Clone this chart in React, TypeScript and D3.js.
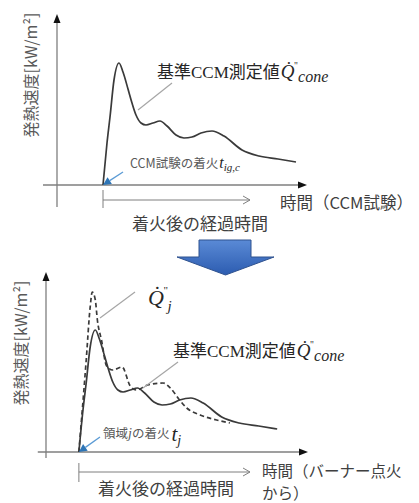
import React, { useEffect, useRef } from 'react';
import * as d3 from 'd3';

// reference CCM heat release curve (time after ignition, HRR)
const ccmTime = [0, 4, 7, 11, 16, 20, 25, 29, 33, 38, 43, 50, 57, 64, 73, 81, 89, 98, 109, 121, 139, 156, 175, 193];
const ccmHrr = [0, 42, 68, 105, 122, 113, 96, 82, 70, 62, 60, 62, 64, 59, 50, 47, 48, 52, 54, 49, 35, 29, 26, 23];
// region j curve (dashed, bottom panel)
const regionTime = [0, 7, 11, 13, 16, 18, 22, 27, 33, 42, 50, 56, 67, 82, 89, 98, 105, 118, 134, 147];
const regionHrr = [0, 90, 145, 160, 152, 132, 112, 86, 82, 85, 66, 62, 67, 69, 64, 52, 44, 37, 32, 29];

const ignitionTop = 46;
const ignitionBottom = 32;

const yLabel = '発熱速度[kW/m²]';
const elapsedLabel = '着火後の経過時間';
const timeLabelTop = ['時間（CCM試験）'];
const timeLabelBottom = ['時間（バーナー点火', 'から）'];
const ccmLabel = '基準CCM測定値';

const sans = '"Noto Sans CJK JP", "Noto Sans", sans-serif';
const serif = '"Liberation Serif", "Noto Sans CJK JP", serif';
const ink = '#262626';
const gray = '#404040';
const axisColor = '#7f7f7f';

function measure(g: any, s: string, size: number, family: string, italic = false) {
  const t = g.append('text')
    .attr('font-size', size).attr('font-family', family)
    .attr('font-style', italic ? 'italic' : 'normal')
    .text(s);
  const w = (t.node() as SVGTextElement).getComputedTextLength();
  t.remove();
  return w;
}

// Q with dot above (combining), double prime and subscript, as one text
function qLabel(g: any, x: number, base: number, prefix: string, qSize: number, sub: string, subSize: number, subDy: number) {
  const text = g.append('text').attr('x', x).attr('y', base).attr('fill', ink);
  let cx = x;
  if (prefix) {
    text.append('tspan').attr('x', x).attr('y', base)
      .attr('font-family', serif).attr('font-size', 17).text(prefix);
    cx += measure(g, prefix, 17, serif) + 1;
  }
  const q = 'Q\u0307';
  const qw = measure(g, q, qSize, serif, true);
  text.append('tspan').attr('x', cx).attr('y', base)
    .attr('font-family', serif).attr('font-style', 'italic').attr('font-size', qSize).text(q);
  text.append('tspan').attr('x', cx + qw - 0.5).attr('y', base - qSize * 0.5)
    .attr('font-family', serif).attr('font-size', qSize * 0.5).text('"');
  text.append('tspan').attr('x', cx + qw + 3.5).attr('y', base + subDy)
    .attr('font-family', serif).attr('font-style', 'italic').attr('font-size', subSize).text(sub);
}

function pointer(g: any, x1: number, y1: number, x2: number, y2: number) {
  const a = Math.atan2(y2 - y1, x2 - x1);
  const len = 8, half = 4;
  const bx = x2 - len * Math.cos(a), by = y2 - len * Math.sin(a);
  g.append('line')
    .attr('x1', x1).attr('y1', y1).attr('x2', bx).attr('y2', by)
    .attr('stroke', '#5b9bd5').attr('stroke-width', 1.3);
  g.append('path')
    .attr('d', `M${x2},${y2}L${bx + half * Math.sin(a)},${by - half * Math.cos(a)}L${bx - half * Math.sin(a)},${by + half * Math.cos(a)}Z`)
    .attr('fill', '#2e75b6');
}

export default function App() {
  const svgRef = useRef<SVGSVGElement>(null);

  useEffect(() => {
    const svg = d3.select(svgRef.current);
    svg.selectAll('*').remove();

    const defs = svg.append('defs');
    const grad = defs.append('linearGradient')
      .attr('id', 'blueArrow').attr('x1', 0).attr('y1', 0).attr('x2', 0).attr('y2', 1);
    grad.append('stop').attr('offset', '0%').attr('stop-color', '#5a8ad6');
    grad.append('stop').attr('offset', '100%').attr('stop-color', '#2c5cb0');

    const panels = [
      {
        x: d3.scaleLinear().domain([0, 250]).range([57, 307]),
        y: d3.scaleLinear().domain([0, 170]).range([185, 15]),
        tIg: ignitionTop, xMin: -14, yMin: -22, yMax: 171,
        bracket: [190, 200, 208],
      },
      {
        x: d3.scaleLinear().domain([0, 255]).range([46, 308]),
        y: d3.scaleLinear().domain([0, 170]).range([452, 282]),
        tIg: ignitionBottom, xMin: -8, yMin: -6, yMax: 180,
        bracket: [463, 472, 482],
      },
    ];

    panels.forEach((p, i) => {
      const g = svg.append('g');
      const x1 = p.x.range()[1];
      const oy = p.y(0);
      const ox = p.x(0);

      // axes
      g.append('line')
        .attr('x1', p.x(p.xMin)).attr('x2', x1 - 6).attr('y1', oy).attr('y2', oy)
        .attr('stroke', axisColor).attr('stroke-width', 1.3);
      g.append('path')
        .attr('d', `M${x1},${oy}L${x1 - 9},${oy - 3.5}L${x1 - 9},${oy + 3.5}Z`)
        .attr('fill', '#111');
      const yTop = p.y(p.yMax);
      g.append('line')
        .attr('x1', ox).attr('x2', ox).attr('y1', p.y(p.yMin)).attr('y2', yTop + 6)
        .attr('stroke', axisColor).attr('stroke-width', 1.3);
      g.append('path')
        .attr('d', `M${ox},${yTop}L${ox - 3.5},${yTop + 9}L${ox + 3.5},${yTop + 9}Z`)
        .attr('fill', '#111');

      // y label
      g.append('text')
        .attr('transform', `translate(${i === 0 ? 30 : 20},${i === 0 ? 75 : 343}) rotate(-90)`)
        .attr('text-anchor', 'middle').attr('dominant-baseline', 'central')
        .attr('font-family', sans).attr('font-size', 16).attr('fill', '#595959')
        .text(yLabel);

      const line = d3.line<number>()
        .x((_, k) => p.x(p.tIg + ccmTime[k]))
        .y(d => p.y(d))
        .curve(d3.curveMonotoneX);

      if (i === 1) {
        const dline = d3.line<number>()
          .x((_, k) => p.x(p.tIg + regionTime[k]))
          .y(d => p.y(d))
          .curve(d3.curveMonotoneX);
        g.append('path')
          .attr('d', dline(regionHrr))
          .attr('fill', 'none').attr('stroke', '#3a3a3a')
          .attr('stroke-width', 1.7).attr('stroke-dasharray', '4.5,3');
      }
      g.append('path')
        .attr('d', line(ccmHrr))
        .attr('fill', 'none').attr('stroke', '#3a3a3a').attr('stroke-width', 1.7);

      // elapsed-time bracket
      const bx = p.x(p.tIg);
      const [bt, bm, bb] = p.bracket;
      g.append('line').attr('x1', bx).attr('x2', bx).attr('y1', bt).attr('y2', bb)
        .attr('stroke', axisColor).attr('stroke-width', 1);
      g.append('line').attr('x1', bx).attr('x2', 250).attr('y1', bm).attr('y2', bm)
        .attr('stroke', axisColor).attr('stroke-width', 1);
      g.append('path').attr('d', `M243,${bm - 4}L250,${bm}L243,${bm + 4}`)
        .attr('fill', 'none').attr('stroke', axisColor).attr('stroke-width', 1);
      g.append('text')
        .attr('x', i === 0 ? 132 : 98).attr('y', i === 0 ? 222 : 487)
        .attr('dominant-baseline', 'central')
        .attr('font-family', sans).attr('font-size', 17).attr('fill', gray)
        .text(elapsedLabel);

      // time axis label (one text, wrapped lines)
      const tl = i === 0 ? timeLabelTop : timeLabelBottom;
      const lx = i === 0 ? 280 : 262;
      const tt = g.append('text')
        .attr('x', lx).attr('y', i === 0 ? 202 : 470)
        .attr('dominant-baseline', 'central')
        .attr('font-family', sans).attr('font-size', i === 0 ? 16.5 : 15.5).attr('fill', gray);
      tl.forEach((s, k) => {
        tt.append('tspan').attr('x', lx).attr('dy', k === 0 ? 0 : 22).text(s);
      });

      // ignition pointer
      pointer(g, i === 0 ? 123 : 100, i === 0 ? 172 : 437, bx, oy);
    });

    // top annotations
    const top = svg.append('g');
    top.append('line').attr('x1', 138).attr('y1', 110).attr('x2', 172).attr('y2', 83)
      .attr('stroke', '#a6a6a6').attr('stroke-width', 1.2);
    qLabel(top, 157, 78, ccmLabel, 19, 'cone', 16, 4);

    const ig1 = top.append('text').attr('x', 130).attr('y', 168).attr('fill', ink);
    ig1.append('tspan').attr('font-family', sans).attr('font-size', 12.5).attr('fill', '#595959').text('CCM試験の着火');
    ig1.append('tspan').attr('dx', 1).attr('font-family', serif).attr('font-style', 'italic').attr('font-size', 16).text('t');
    ig1.append('tspan').attr('dy', 3).attr('font-family', serif).attr('font-style', 'italic').attr('font-size', 11).text('ig,c');

    // bottom annotations
    const bot = svg.append('g');
    bot.append('line').attr('x1', 100).attr('y1', 318).attr('x2', 135).attr('y2', 292)
      .attr('stroke', '#a6a6a6').attr('stroke-width', 1.2);
    qLabel(bot, 148, 305, '', 22, 'j', 15, 6);
    bot.append('line').attr('x1', 143).attr('y1', 388).attr('x2', 178).attr('y2', 362)
      .attr('stroke', '#a6a6a6').attr('stroke-width', 1.2);
    qLabel(bot, 173, 357, ccmLabel, 19, 'cone', 16, 4);

    const ig2 = bot.append('text').attr('x', 103).attr('y', 438)
      .attr('font-family', sans).attr('font-size', 12.5).attr('fill', '#595959');
    ig2.append('tspan').text('領域');
    ig2.append('tspan').attr('font-family', serif).attr('font-style', 'italic').attr('font-size', 14).text('j');
    ig2.append('tspan').text('の着火');
    ig2.append('tspan').attr('dx', 2).attr('dy', 3).attr('font-family', serif).attr('font-style', 'italic')
      .attr('font-size', 21).attr('fill', ink).text('t');
    ig2.append('tspan').attr('dy', 4).attr('font-family', serif).attr('font-style', 'italic')
      .attr('font-size', 14).attr('fill', ink).text('j');

    // transition arrow
    svg.append('path')
      .attr('d', 'M199,240H251V257H274L225.5,275L177,257H199Z')
      .attr('fill', 'url(#blueArrow)').attr('stroke', '#2f528f').attr('stroke-width', 1);
  }, []);

  return (
    <svg
      ref={svgRef}
      width={419}
      height={503}
      style={{ position: 'absolute', left: 0, top: 0, background: '#fff' }}
    />
  );
}
